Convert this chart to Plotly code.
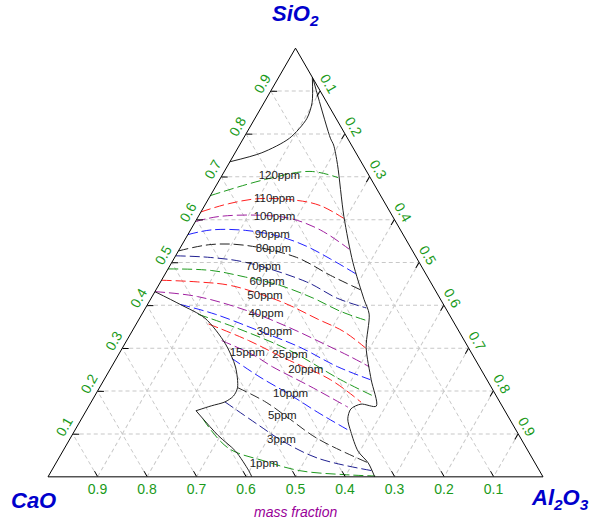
import plotly.graph_objects as go

# ---------------- data (SiO2 = a, Al2O3 = c, CaO = 1 - a - c) ----------------
levels = [120, 110, 100, 90, 80, 70, 60, 50, 40, 30, 25, 20, 15, 10, 5, 3, 1]
colors = ["#1f9a1f", "#ff2020", "#a020a0", "#2020ff", "#202020", "#202090",
          "#1f9a1f", "#ff2020", "#a020a0", "#2020ff", "#1f9a1f", "#ff2020",
          "#a020a0", "#2020ff", "#303030", "#202090", "#1f9a1f"]

sio2_120 = [0.656, 0.694, 0.7125, 0.698]
al2o3_120 = [0.0, 0.093, 0.173, 0.237]
sio2_110 = [0.618, 0.637, 0.649, 0.645, 0.633, 0.603]
al2o3_110 = [0.0, 0.046, 0.102, 0.18, 0.233, 0.296]
sio2_100 = [0.5955, 0.607, 0.6105, 0.603, 0.576, 0.531]
al2o3_100 = [0.0, 0.04, 0.114, 0.187, 0.262, 0.343]
sio2_90 = [0.565, 0.576, 0.575, 0.561, 0.538, 0.508, 0.4736]
al2o3_90 = [0.0, 0.042, 0.111, 0.187, 0.253, 0.317, 0.385]
sio2_80 = [0.527, 0.542, 0.540, 0.512, 0.470, 0.436]
al2o3_80 = [0.0, 0.059, 0.129, 0.246, 0.3355, 0.414]
sio2_70 = [0.5156, 0.5117, 0.5003, 0.4547, 0.4166, 0.394]
al2o3_70 = [0.0, 0.073, 0.149, 0.295, 0.376, 0.446]
sio2_60 = [0.485, 0.4814, 0.466, 0.447, 0.4166, 0.386, 0.3635]
al2o3_60 = [0.0, 0.089, 0.166, 0.244, 0.328, 0.398, 0.465]
sio2_50 = [0.4586, 0.4547, 0.446, 0.4073, 0.3685, 0.3389, 0.3001]
al2o3_50 = [0.0, 0.075, 0.1475, 0.270, 0.3595, 0.428, 0.492]
sio2_40 = [0.432, 0.4205, 0.3863, 0.348, 0.311, 0.2797, 0.2569]
al2o3_40 = [0.0, 0.092, 0.2125, 0.314, 0.4006, 0.472, 0.5205]
sio2_30 = [0.4022, 0.3794, 0.3406, 0.3025, 0.2569, 0.2266]
al2o3_30 = [0.066, 0.148, 0.256, 0.3574, 0.4565, 0.538]
sio2_25 = [0.3791, 0.3482, 0.295, 0.2266, 0.1885]
al2o3_25 = [0.114, 0.2047, 0.3405, 0.4777, 0.563]
sio2_20 = [0.3566, 0.3178, 0.279, 0.2266, 0.1741]
al2o3_20 = [0.146, 0.2467, 0.3341, 0.4572, 0.5454]
sio2_15 = [0.3178, 0.2836, 0.2569, 0.2113, 0.1627]
al2o3_15 = [0.192, 0.2741, 0.3248, 0.4237, 0.5243]
sio2_10 = [0.2767, 0.2341, 0.1923, 0.1513, 0.1057]
al2o3_10 = [0.2327, 0.3092, 0.3918, 0.4681, 0.5588]
sio2_5 = [0.2082, 0.174, 0.1353, 0.0897, 0.0326]
al2o3_5 = [0.2788, 0.3536, 0.4203, 0.4988, 0.6305]
sio2_3 = [0.1748, 0.12, 0.0851, 0.044, 0.0144]
al2o3_3 = [0.2701, 0.3662, 0.429, 0.5217, 0.6472]
sio2_1 = [0.1353, 0.067, 0.0372, 0.0144, 0.0052, 0.002]
al2o3_1 = [0.2453, 0.3308, 0.418, 0.5015, 0.595, 0.66]

# label positions
label_sio2 = [0.701, 0.6486, 0.607, 0.565, 0.5307, 0.49, 0.455, 0.4205, 0.3787,
              0.3368, 0.2836, 0.2494, 0.289, 0.1923, 0.1428, 0.0858, 0.0287]
label_al2o3 = [0.117, 0.133, 0.154, 0.1705, 0.190, 0.19, 0.215, 0.228, 0.251,
               0.289, 0.347, 0.396, 0.258, 0.394, 0.402, 0.4286, 0.4221]

# phase boundaries (solid black)
bound_upper_sio2 = [0.932, 0.873, 0.8356, 0.79, 0.756, 0.735]
bound_upper_al2o3 = [0.068, 0.097, 0.105, 0.093, 0.054, 0.0]
bound_right_sio2 = [0.93, 0.79, 0.774, 0.7285, 0.6075, 0.5004, 0.4138, 0.3796,
                    0.3021, 0.2266, 0.165, 0.1697, 0.1582, 0.1354, 0.1057, 0.0601,
                    0.0326, 0.0]
bound_right_al2o3 = [0.07, 0.1755, 0.19, 0.2206, 0.294, 0.3657, 0.4316, 0.459,
                     0.4917, 0.5396, 0.5807, 0.5475, 0.5326, 0.5379, 0.5588, 0.5962,
                     0.6305, 0.66]
bound_left_sio2 = [0.432, 0.4022, 0.3703, 0.3109, 0.2562, 0.2082, 0.1885, 0.1748,
                   0.1656, 0.1542]
bound_left_al2o3 = [0.0, 0.066, 0.1318, 0.2027, 0.2507, 0.2788, 0.2804, 0.2701,
                    0.2471, 0.2219]
bound_low_sio2 = [0.1542, 0.0965, 0.06, 0.0144, 0.0]
bound_low_al2o3 = [0.2219, 0.2954, 0.3488, 0.3984, 0.4118]

tick_vals = [0.1, 0.2, 0.3, 0.4, 0.5, 0.6, 0.7, 0.8, 0.9]
tick_text = ["0.1", "0.2", "0.3", "0.4", "0.5", "0.6", "0.7", "0.8", "0.9"]

contours_sio2 = [sio2_120, sio2_110, sio2_100, sio2_90, sio2_80, sio2_70, sio2_60,
                 sio2_50, sio2_40, sio2_30, sio2_25, sio2_20, sio2_15, sio2_10,
                 sio2_5, sio2_3, sio2_1]
contours_al2o3 = [al2o3_120, al2o3_110, al2o3_100, al2o3_90, al2o3_80, al2o3_70,
                  al2o3_60, al2o3_50, al2o3_40, al2o3_30, al2o3_25, al2o3_20,
                  al2o3_15, al2o3_10, al2o3_5, al2o3_3, al2o3_1]


def cao(s, c):
    return [max(0.0, round(1 - x - y, 5)) for x, y in zip(s, c)]


FONT = "Liberation Sans, Arial"
fig = go.Figure()

for lev, col, s, c in zip(levels, colors, contours_sio2, contours_al2o3):
    fig.add_trace(go.Scatterternary(
        a=s, b=cao(s, c), c=c, mode="lines",
        line=dict(color=col, width=1, dash="10px,4px", shape="spline"),
        hoverinfo="skip", showlegend=False))

for s, c in [(bound_upper_sio2, bound_upper_al2o3),
             (bound_right_sio2, bound_right_al2o3),
             (bound_left_sio2, bound_left_al2o3),
             (bound_low_sio2, bound_low_al2o3)]:
    fig.add_trace(go.Scatterternary(
        a=s, b=cao(s, c), c=c, mode="lines",
        line=dict(color="#222222", width=1, shape="spline", smoothing=0.8),
        hoverinfo="skip", showlegend=False))

fig.add_trace(go.Scatterternary(
    a=label_sio2, b=cao(label_sio2, label_al2o3), c=label_al2o3, mode="text",
    text=[f"{v}ppm" for v in levels],
    textfont=dict(family=FONT, size=11.5, color="#222222"),
    hoverinfo="skip", showlegend=False))

axis_common = dict(
    min=0, tickmode="array", tickvals=tick_vals, ticktext=tick_text,
    ticks="inside", ticklen=6, tickcolor="#000000",
    tickfont=dict(family=FONT, size=14, color="#1a9a1a"),
    showline=True, linecolor="#000000", linewidth=1,
    showgrid=True, gridcolor="#c8c8c8", gridwidth=1, griddash="4px,3px",
    title=dict(text=""),
)

fig.update_layout(
    width=590, height=520,
    margin=dict(l=48, r=47, t=48, b=43),
    paper_bgcolor="white",
    template="none",
    ternary=dict(
        sum=1, bgcolor="white",
        domain=dict(x=[0, 1], y=[0, 1]),
        aaxis=dict(**axis_common, tickangle=-60),
        baxis=dict(**axis_common, tickangle=0),
        caxis=dict(**axis_common, tickangle=60),
    ),
    annotations=[
        dict(text="<b><i>SiO<sub>2</sub></i></b>", x=0.5, y=1.077, xref="paper", yref="paper",
             showarrow=False, xanchor="center", yanchor="middle",
             font=dict(family=FONT, size=22, color="#0000cc")),
        dict(text="<b><i>CaO</i></b>", x=-0.03, y=-0.054, xref="paper", yref="paper",
             showarrow=False, xanchor="center", yanchor="middle",
             font=dict(family=FONT, size=22, color="#0000cc")),
        dict(text="<b><i>Al<sub>2</sub>O<sub>3</sub></i></b>", x=1.035, y=-0.051,
             xref="paper", yref="paper",
             showarrow=False, xanchor="center", yanchor="middle",
             font=dict(family=FONT, size=22, color="#0000cc")),
        dict(text="<i>mass fraction</i>", x=0.5, y=-0.0816, xref="paper", yref="paper",
             showarrow=False, xanchor="center", yanchor="middle",
             font=dict(family=FONT, size=14, color="#990099")),
    ],
)

fig.write_html("out.html")
